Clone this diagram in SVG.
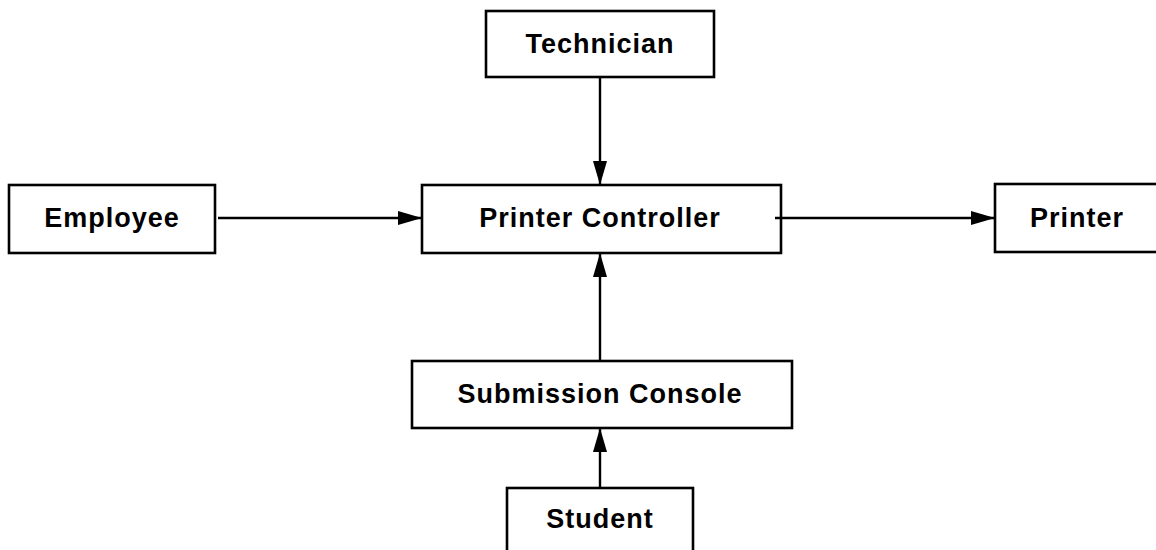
<svg xmlns="http://www.w3.org/2000/svg" width="1156" height="550" viewBox="0 0 1156 550">
<style>
.box{fill:#fff;stroke:#000;stroke-width:2.6}
.lbl{font-family:"Liberation Sans",Arial,sans-serif;font-weight:bold;font-size:27px;letter-spacing:1px;text-anchor:middle;fill:#000}
.edge{stroke:#000;stroke-width:2.4;fill:none;marker-end:url(#arr)}
</style>
<defs>
<marker id="arr" markerUnits="userSpaceOnUse" markerWidth="26" markerHeight="16" refX="24" refY="7" orient="auto">
<path d="M0,0 L24,7 L0,14 Z" fill="#000"/>
</marker>
</defs>
<rect width="1156" height="550" fill="#fff"/>
<g id="connectors">
<line class="edge" x1="218" y1="218" x2="422" y2="218"/>
<line class="edge" x1="775" y1="218" x2="995" y2="218"/>
<line class="edge" x1="600" y1="77" x2="600" y2="185"/>
<line class="edge" x1="600" y1="361" x2="600" y2="253"/>
<line class="edge" x1="600" y1="488" x2="600" y2="428"/>
</g>
<g id="technician">
<rect class="box" x="486" y="11" width="228" height="66"/>
<text class="lbl" x="600" y="53">Technician</text>
</g>
<g id="employee">
<rect class="box" x="9" y="185" width="206" height="68"/>
<text class="lbl" x="112" y="227">Employee</text>
</g>
<g id="printer-controller">
<rect class="box" x="422" y="185" width="359" height="68" fill-opacity="0"/>
<text class="lbl" x="600" y="227">Printer Controller</text>
</g>
<g id="printer">
<rect class="box" x="995" y="184" width="166" height="68"/>
<text class="lbl" x="1077" y="227">Printer</text>
</g>
<g id="submission-console">
<rect class="box" x="412" y="361" width="380" height="67"/>
<text class="lbl" x="600" y="403">Submission Console</text>
</g>
<g id="student">
<rect class="box" x="507" y="488" width="186" height="75"/>
<text class="lbl" x="600" y="528">Student</text>
</g>
</svg>
